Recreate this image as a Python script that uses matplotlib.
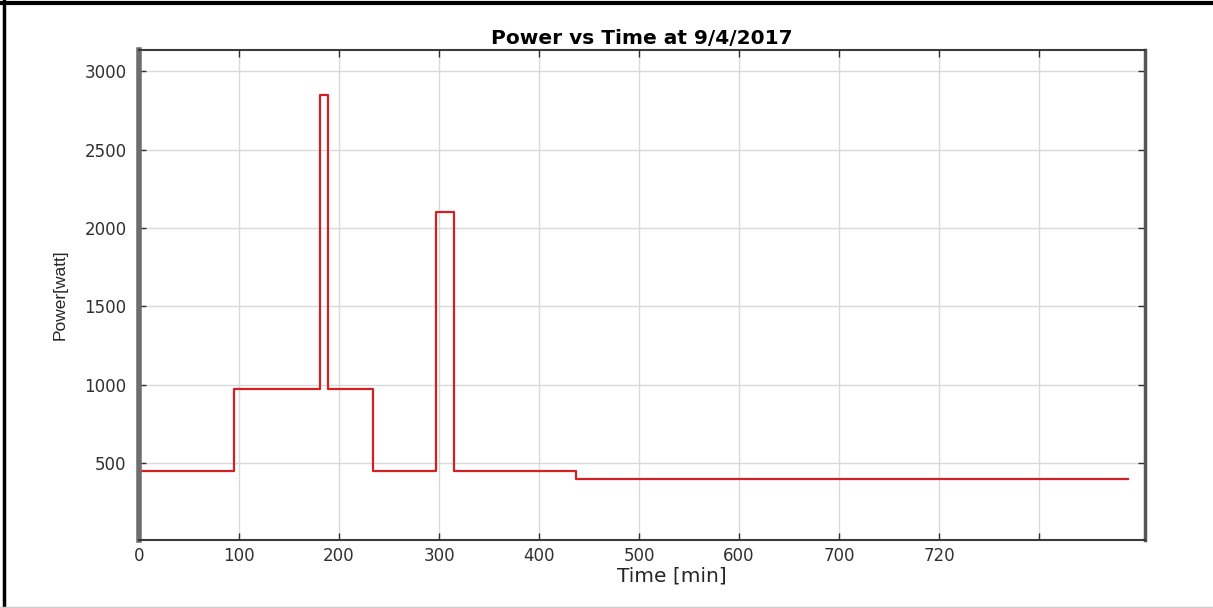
import matplotlib
matplotlib.use("Agg")
import matplotlib.pyplot as plt
from matplotlib.lines import Line2D

plt.rcParams['font.family'] = ['DejaVu Sans']

# step breakpoints [min] and power level [watt] held from each breakpoint
times = [0, 0, 95, 181, 189, 234, 297, 315, 437, 989]
power = [10, 450, 975, 2850, 975, 450, 2100, 450, 400, 400]

x_ticks = [0, 100, 200, 300, 400, 500, 600, 700, 800, 900]
x_labels = ['0', '100', '200', '300', '400', '500', '600', '700', '720', '']
y_ticks = [500, 1000, 1500, 2000, 2500, 3000]


def main():
    fig = plt.figure(figsize=(12.13, 6.08), dpi=100)
    ax = fig.add_axes([0.1146, 0.1118, 0.8294, 0.806])

    ax.step(times, power, where='post', color='#d42020', lw=1.6)

    ax.set_xlim(0, 1006)
    ax.set_ylim(10, 3136)
    ax.set_xticks(x_ticks)
    ax.set_xticklabels(x_labels)
    ax.set_yticks(y_ticks)

    ax.grid(True, color='#d9d9d9', lw=1.0)
    ax.set_axisbelow(True)
    ax.tick_params(direction='in', length=5, width=1, colors='#303030',
                   labelsize=12, top=True, right=True)
    ax.tick_params(axis='y', pad=9)
    ax.tick_params(axis='x', pad=5)

    for name, sp in ax.spines.items():
        sp.set_color('#3a3a3a')
        sp.set_linewidth(1.5)
    ax.spines['left'].set_color('#6e6e6e')
    ax.spines['left'].set_linewidth(4)
    ax.spines['right'].set_color('#555555')
    ax.spines['right'].set_linewidth(2.5)

    ax.set_title('Power vs Time at 9/4/2017', fontsize=14.5, fontweight='bold', pad=4)
    ax.set_xlabel('Time [min]', fontsize=14.5, color='#262626', labelpad=0)
    ax.xaxis.set_label_coords(0.53, -0.055)
    ax.set_ylabel('Power[watt]', fontsize=12.5, color='#262626', labelpad=12,
                  family=['Liberation Sans Narrow', 'Liberation Sans', 'DejaVu Sans'])

    # frame around the picture (top and left black, faint bottom)
    fig.add_artist(Line2D([0, 1], [0.9955, 0.9955], transform=fig.transFigure, color='black', lw=3))
    fig.add_artist(Line2D([0.0035, 0.0035], [0, 1], transform=fig.transFigure, color='black', lw=2.5))
    fig.add_artist(Line2D([0, 1], [0.002, 0.002], transform=fig.transFigure, color='#cccccc', lw=1))

    fig.savefig('out.png', dpi=100)


if __name__ == "__main__":
    main()
